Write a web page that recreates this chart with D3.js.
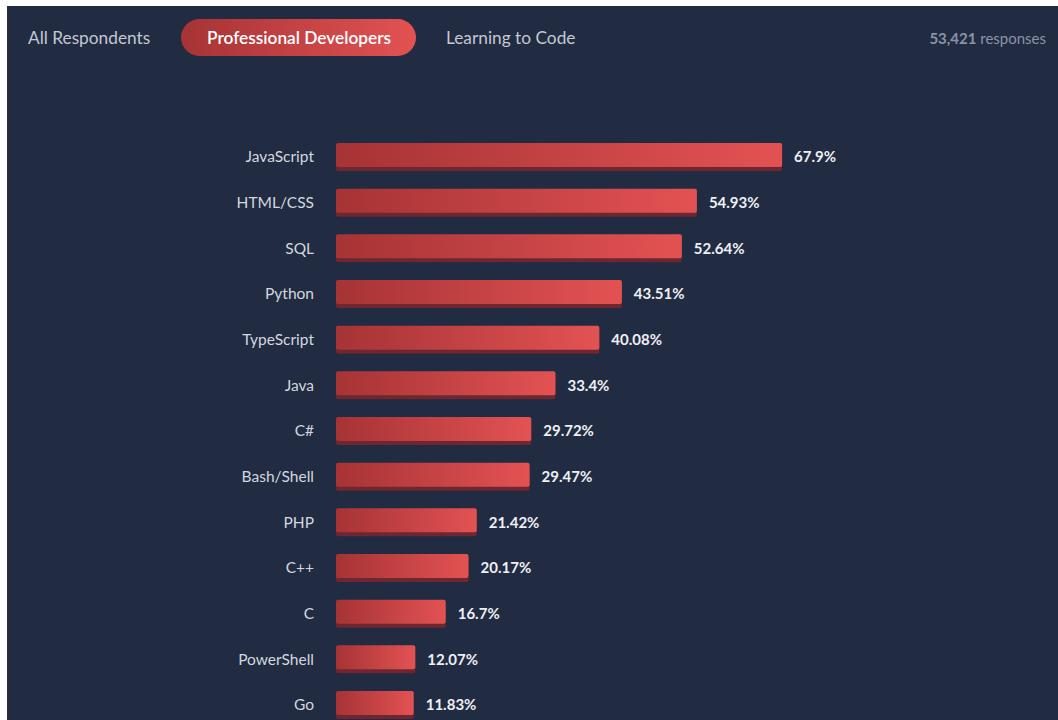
<!DOCTYPE html>
<html>
<head>
<meta charset="utf-8">
<script src="https://cdn.jsdelivr.net/npm/d3@7"></script>
<style>
  html, body { margin: 0; padding: 0; background: #ffffff; }
  svg { display: block; font-family: "Lato", "Open Sans", sans-serif; }
</style>
</head>
<body>
<svg id="chart" width="1058" height="720"></svg>
<script>
const languages = ["JavaScript", "HTML/CSS", "SQL", "Python", "TypeScript", "Java", "C#",
  "Bash/Shell", "PHP", "C++", "C", "PowerShell", "Go"];
const shares = [67.9, 54.93, 52.64, 43.51, 40.08, 33.4, 29.72, 29.47, 21.42, 20.17, 16.7, 12.07, 11.83];
const tabs = ["All Respondents", "Professional Developers", "Learning to Code"];
const activeTab = "Professional Developers";
const responses = 53421;

const data = languages.map((name, i) => ({ name, value: shares[i] }));

const svg = d3.select("#chart");
const W = 1058, H = 720;

// page background (white strip on top/left like the screenshot crop)
svg.append("rect").attr("x", 7).attr("y", 6).attr("width", W - 7).attr("height", H - 6)
  .attr("fill", "#212b42");

const defs = svg.append("defs");
const grad = defs.append("linearGradient").attr("id", "barGrad")
  .attr("x1", "0%").attr("x2", "100%").attr("y1", "0%").attr("y2", "0%");
grad.append("stop").attr("offset", "0%").attr("stop-color", "#a63335");
grad.append("stop").attr("offset", "100%").attr("stop-color", "#e35253");

// tabs
const tabX = [28, 207, 446];
const tabG = svg.append("g").attr("font-size", 17.3);
tabG.append("rect")
  .attr("x", 181).attr("y", 19).attr("width", 235).attr("height", 37)
  .attr("rx", 18.5).attr("fill", "url(#barGrad)");
tabG.selectAll("text").data(tabs).join("text")
  .attr("x", (d, i) => tabX[i])
  .attr("y", 44)
  .attr("fill", d => d === activeTab ? "#ffffff" : "#c3c8d2")
  .attr("font-weight", d => d === activeTab ? 600 : 400)
  .text(d => d);

const resp = svg.append("text").attr("x", 1046).attr("y", 44)
  .attr("text-anchor", "end").attr("font-size", 15).attr("fill", "#8b93a7");
resp.append("tspan").attr("font-weight", 700).text(d3.format(",")(responses));
resp.append("tspan").text(" responses");

// scales
const x = d3.scaleLinear().domain([0, 100]).range([336, 336 + 657]);
const y = d3.scalePoint().domain(languages).range([155, 703]);
const barH = 24;

const rows = svg.append("g").selectAll("g").data(data).join("g")
  .attr("transform", d => `translate(0,${y(d.name)})`);

// bottom shadow
rows.append("rect")
  .attr("x", x(0))
  .attr("y", -barH / 2 + 4)
  .attr("width", d => x(d.value) - x(0))
  .attr("height", barH)
  .attr("rx", 2)
  .attr("fill", "#6e2630");

rows.append("rect")
  .attr("x", x(0))
  .attr("y", -barH / 2)
  .attr("width", d => x(d.value) - x(0))
  .attr("height", barH)
  .attr("rx", 2)
  .attr("fill", "url(#barGrad)");

rows.append("text")
  .attr("x", 314)
  .attr("y", 2)
  .attr("dy", "0.35em")
  .attr("text-anchor", "end")
  .attr("font-size", 15.5)
  .attr("fill", "#d3d7df")
  .text(d => d.name);

rows.append("text")
  .attr("x", d => x(d.value) + 12)
  .attr("y", 2)
  .attr("dy", "0.35em")
  .attr("font-size", 15)
  .attr("font-weight", 700)
  .attr("fill", "#eef0f4")
  .text(d => d.value + "%");
</script>
</body>
</html>
